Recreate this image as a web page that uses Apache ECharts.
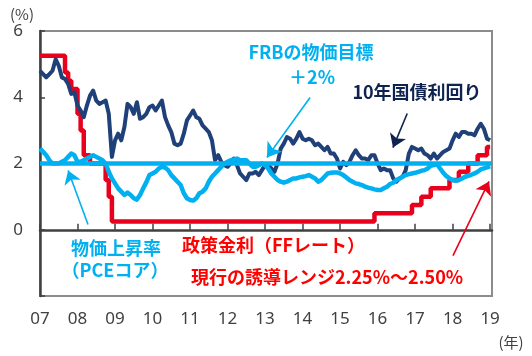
<!DOCTYPE html>
<html><head><meta charset="utf-8">
<script src="https://cdn.jsdelivr.net/npm/echarts@6/dist/echarts.min.js"></script>
<style>html,body{margin:0;padding:0;background:#fff}#c{width:532px;height:356px}</style>
</head><body><div id="c"></div>
<script>
// monthly data, Jan 2007 .. Jan 2019
const startYear = 2007;
const yearTicks = ['07','08','09','10','11','12','13','14','15','16','17','18','19'];
const yield10 = [
4.8,4.7,4.6,4.7,4.8,5.15,4.95,4.6,4.55,4.4,4.1,4.15,
3.75,3.6,3.4,3.75,4.05,4.2,3.9,3.8,3.85,3.9,3.5,2.2,
2.7,2.9,2.7,3.1,3.8,3.7,3.5,3.85,3.35,3.4,3.5,3.7,
3.75,3.6,3.75,3.9,3.4,3.15,2.95,2.6,2.55,2.6,2.9,3.3,
3.45,3.6,3.4,3.35,3.15,3.05,2.95,2.7,2.1,2.25,2.05,1.95,
1.9,2.0,2.15,1.95,1.7,1.6,1.5,1.7,1.7,1.75,1.65,1.8,
1.95,1.95,1.85,1.75,2.0,2.45,2.6,2.8,2.75,2.6,2.75,2.95,
2.75,2.7,2.75,2.7,2.55,2.6,2.5,2.4,2.5,2.3,2.3,2.15,
1.85,2.05,1.95,2.05,2.25,2.4,2.25,2.15,2.15,2.1,2.25,2.25,
2.0,1.8,1.85,1.8,1.8,1.55,1.45,1.55,1.6,1.8,2.3,2.5,
2.45,2.4,2.45,2.3,2.25,2.15,2.3,2.15,2.25,2.35,2.4,2.45,
2.7,2.9,2.8,2.95,2.95,2.9,2.9,2.85,3.05,3.2,3.05,2.75,
2.7];
const pceCore = [
2.45,2.35,2.25,2.1,2.0,2.0,2.0,2.05,2.1,2.2,2.3,2.25,
2.05,2.05,2.1,2.15,2.2,2.25,2.2,2.15,2.1,2.0,1.75,1.55,
1.4,1.25,1.15,1.05,1.12,1.05,0.95,0.91,1.05,1.25,1.43,1.65,
1.7,1.75,1.85,1.9,1.88,1.8,1.65,1.55,1.45,1.35,1.1,0.95,
0.9,0.88,0.95,1.1,1.15,1.25,1.45,1.6,1.7,1.8,1.9,2.0,
2.05,2.1,2.12,2.15,2.1,2.1,2.1,2.0,1.9,1.9,1.95,2.0,
1.95,1.85,1.7,1.6,1.5,1.45,1.42,1.45,1.5,1.55,1.55,1.58,
1.6,1.62,1.65,1.6,1.55,1.45,1.5,1.6,1.7,1.72,1.73,1.73,
1.7,1.65,1.58,1.5,1.45,1.4,1.38,1.35,1.3,1.27,1.25,1.22,
1.2,1.2,1.25,1.3,1.38,1.42,1.5,1.55,1.6,1.65,1.68,1.7,
1.72,1.75,1.78,1.8,1.85,1.93,1.95,1.98,1.85,1.72,1.62,1.55,
1.5,1.48,1.5,1.55,1.6,1.63,1.66,1.7,1.75,1.82,1.85,1.88,
1.92];
const ffRate = [
5.25,5.25,5.25,5.25,5.25,5.25,5.25,5.25,4.75,4.5,4.25,4.25,
3.5,3.0,2.25,2.25,2.0,2.0,2.0,2.0,2.0,1.5,1.0,0.25,
0.25,0.25,0.25,0.25,0.25,0.25,0.25,0.25,0.25,0.25,0.25,0.25,
0.25,0.25,0.25,0.25,0.25,0.25,0.25,0.25,0.25,0.25,0.25,0.25,
0.25,0.25,0.25,0.25,0.25,0.25,0.25,0.25,0.25,0.25,0.25,0.25,
0.25,0.25,0.25,0.25,0.25,0.25,0.25,0.25,0.25,0.25,0.25,0.25,
0.25,0.25,0.25,0.25,0.25,0.25,0.25,0.25,0.25,0.25,0.25,0.25,
0.25,0.25,0.25,0.25,0.25,0.25,0.25,0.25,0.25,0.25,0.25,0.25,
0.25,0.25,0.25,0.25,0.25,0.25,0.25,0.25,0.25,0.25,0.25,0.5,
0.5,0.5,0.5,0.5,0.5,0.5,0.5,0.5,0.5,0.5,0.5,0.75,
0.75,0.75,1.0,1.0,1.0,1.25,1.25,1.25,1.25,1.25,1.25,1.5,
1.5,1.5,1.75,1.75,1.75,2.0,2.0,2.0,2.25,2.25,2.25,2.5,
2.5];
const fedTarget = 2;
const xMin = 2007, xMax = 2019.05;

const toPairs = arr => arr.map((v, i) => [startYear + i / 12, v]);

const NAVY = '#1f4078', CYAN = '#00b0f0', RED = '#e8001c';
const FONT = '"Noto Sans", "Noto Sans CJK JP", sans-serif';
const JFONT = '"Noto Sans CJK JP", "Noto Sans", sans-serif';

const chart = echarts.init(document.getElementById('c'), null, {renderer: 'canvas'});
const arrow = (color, from, to, size) => ({
  silent: true, symbol: ['none', 'arrow'], symbolSize: size,
  label: {show: false}, lineStyle: {color: color, width: 1.6, type: 'solid'},
  itemStyle: {color: color},
  data: [[{coord: from}, {coord: to}]], animation: false
});
const txt = (x, y, text, color, size, align, weight) => ({
  type: 'text', x: x, y: y, z: 100,
  style: {text: text, fill: color, font: (weight || 'bold') + ' ' + size + 'px ' + JFONT,
          textAlign: align || 'center', textVerticalAlign: 'middle'}
});

chart.setOption({
  animation: false,
  grid: {left: 40, top: 31, right: 40, bottom: 60, show: true, borderColor: '#8c8c8c', borderWidth: 2},
  xAxis: {
    type: 'value', min: xMin, max: xMax, interval: 1,
    axisLine: {show: true, lineStyle: {color: '#404040', width: 2.5}},
    axisTick: {show: true, inside: true, length: 6, lineStyle: {color: '#404040', width: 1.5}},
    axisLabel: {show: true, margin: 15, color: '#404040', fontSize: 17, fontFamily: FONT,
      showMaxLabel: false,
      formatter: v => { const k = Math.round(v - startYear); return (Math.abs(v - Math.round(v)) < 1e-6 && yearTicks[k]) ? yearTicks[k] : ''; }},
    splitLine: {show: false}
  },
  yAxis: {
    type: 'value', min: -2, max: 6, interval: 2,
    axisLine: {show: true, lineStyle: {color: '#404040', width: 2.5}},
    axisTick: {show: true, inside: true, length: 5, lineStyle: {color: '#404040', width: 1.5}},
    axisLabel: {color: '#404040', fontSize: 17, fontFamily: FONT, margin: 17,
      formatter: v => v < 0 ? '' : String(v)},
    splitLine: {show: false}
  },
  series: [
    {type: 'line', name: 'FF', data: toPairs(ffRate), step: 'end', showSymbol: false, z: 2,
     lineStyle: {color: RED, width: 4.5}, markLine: arrow(RED, [2018.01, -0.78], [2018.97, 1.46], 13)},
    {type: 'line', name: '10Y', data: toPairs(yield10), showSymbol: false, z: 3,
     lineStyle: {color: NAVY, width: 4, join: 'round'},
     markLine: arrow('#0f2350', [2016.79, 3.51], [2016.41, 2.48], 13)},
    {type: 'line', name: 'PCE', data: toPairs(pceCore), showSymbol: false, z: 4,
     lineStyle: {color: CYAN, width: 4.5, join: 'round'},
     markLine: arrow(CYAN, [2008.28, 0.16], [2007.75, 1.79], 13)},
    {type: 'line', name: 'Target', data: [[xMin, fedTarget], [xMax, fedTarget]], showSymbol: false, z: 5,
     lineStyle: {color: CYAN, width: 4.5},
     markLine: arrow(CYAN, [2014.2, 3.99], [2013.05, 2.18], 14)}
  ],
  graphic: [
    txt(22, 14, '(%)', '#404040', 15, 'center', 'normal'),
    txt(511, 342, '(年)', '#404040', 15, 'center', 'normal'),
    txt(311, 52, 'FRBの物価目標', CYAN, 18),
    txt(312, 77, '＋2%', CYAN, 18),
    txt(417, 92, '10年国債利回り', '#0f2350', 18),
    txt(116, 248, '物価上昇率', CYAN, 18),
    txt(115, 270, '（PCEコア）', CYAN, 18),
    txt(182, 245, '政策金利（FFレート）', '#ff0000', 18, 'left'),
    txt(191, 277, '現行の誘導レンジ2.25%～2.50%', '#ff0000', 18, 'left')
  ]
});
</script></body></html>
